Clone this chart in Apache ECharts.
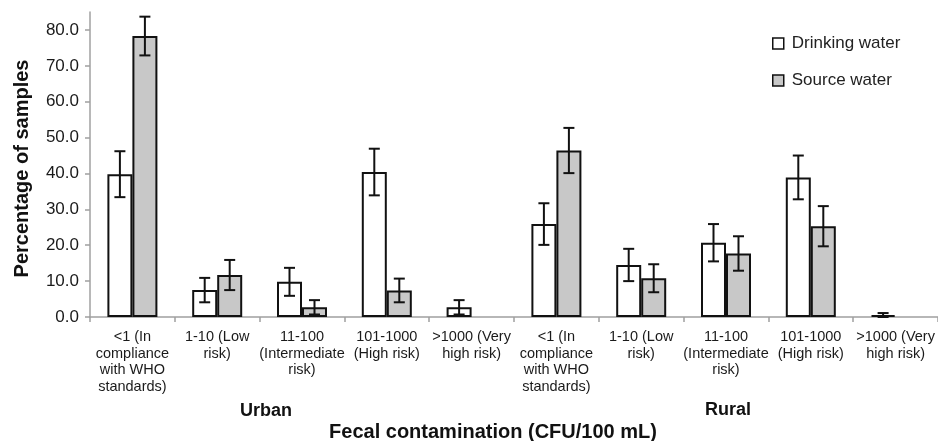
<!DOCTYPE html>
<html>
<head>
<meta charset="utf-8">
<script src="https://cdn.jsdelivr.net/npm/echarts@6/dist/echarts.min.js"></script>
<style>
html,body{margin:0;padding:0;background:#fff;}
#chart{width:938px;height:441px;}
</style>
</head>
<body>
<div id="chart"></div>
<script>
var categories = [
  "<1 (In\ncompliance\nwith WHO\nstandards)",
  "1-10 (Low\nrisk)",
  "11-100\n(Intermediate\nrisk)",
  "101-1000\n(High risk)",
  ">1000 (Very\nhigh risk)",
  "<1 (In\ncompliance\nwith WHO\nstandards)",
  "1-10 (Low\nrisk)",
  "11-100\n(Intermediate\nrisk)",
  "101-1000\n(High risk)",
  ">1000 (Very\nhigh risk)"
];
var groupLabels = ["Urban", "Rural"];
var drinking    = [39.8, 7.5, 9.8, 40.4, 2.7, 25.9, 14.5, 20.7, 38.9, 0.5];
var drinkingErr = [6.4, 3.4, 3.9, 6.5, 2.0, 5.8, 4.5, 5.2, 6.1, 0.6];
var source      = [78.3, 11.7, 2.7, 7.4, null, 46.4, 10.8, 17.7, 25.3, null];
var sourceErr   = [5.4, 4.2, 2.0, 3.3, null, 6.3, 3.9, 4.8, 5.6, null];
var yTicks = [0, 10, 20, 30, 40, 50, 60, 70, 80];

var FONT = "Liberation Sans, Arial, sans-serif";
var BAR_W = 25;

function errData(vals, errs) {
  var out = [];
  for (var i = 0; i < vals.length; i++) {
    if (vals[i] != null && errs[i] != null) out.push([i, vals[i], errs[i]]);
  }
  return out;
}

function errRenderer(offset) {
  return function (params, api) {
    var i = api.value(0), v = api.value(1), e = api.value(2);
    var hi = api.coord([i, v + e]);
    var lo = api.coord([i, Math.max(0, v - e)]);
    var x = hi[0] + offset;
    var cap = 5.5;
    var st = { stroke: '#111', lineWidth: 2 };
    return {
      type: 'group',
      children: [
        { type: 'line', shape: { x1: x, y1: hi[1], x2: x, y2: lo[1] }, style: st },
        { type: 'line', shape: { x1: x - cap, y1: hi[1], x2: x + cap, y2: hi[1] }, style: st },
        { type: 'line', shape: { x1: x - cap, y1: lo[1], x2: x + cap, y2: lo[1] }, style: st }
      ]
    };
  };
}

var chart = echarts.init(document.getElementById('chart'), null, { renderer: 'canvas' });
chart.setOption({
  animation: false,
  backgroundColor: '#fff',
  textStyle: { fontFamily: FONT },
  grid: { left: 90, top: 12, width: 851, height: 305 },
  legend: {
    orient: 'vertical',
    left: 767,
    top: 30,
    itemWidth: 11,
    itemHeight: 11,
    itemGap: 20,
    icon: 'rect',
    textStyle: { fontFamily: FONT, fontSize: 17, color: '#222', padding: [0, 0, 0, 3] },
    itemStyle: { borderWidth: 1.5, borderColor: '#111' },
    data: ['Drinking water', 'Source water']
  },
  xAxis: {
    type: 'category',
    data: categories,
    axisLine: { lineStyle: { color: '#a0a0a0', width: 1.5 } },
    axisTick: { show: true, length: 5, lineStyle: { color: '#a0a0a0', width: 1.5 } },
    axisLabel: {
      interval: 0,
      margin: 12,
      fontFamily: FONT,
      fontSize: 14.5,
      lineHeight: 16.5,
      color: '#1a1a1a',
      align: 'center'
    }
  },
  yAxis: {
    type: 'value',
    min: 0,
    max: 85,
    interval: 10,
    splitLine: { show: false },
    axisLine: { show: true, lineStyle: { color: '#a0a0a0', width: 1.5 } },
    axisTick: { show: true, length: 5, lineStyle: { color: '#a0a0a0', width: 1.5 } },
    axisLabel: {
      showMaxLabel: false,
      margin: 11,
      fontFamily: FONT,
      fontSize: 17,
      color: '#1a1a1a',
      formatter: function (v) { return yTicks.indexOf(v) >= 0 ? v.toFixed(1) : ''; }
    }
  },
  graphic: [
    { type: 'text', x: 22, y: 168.5, rotation: Math.PI / 2,
      style: { text: 'Percentage of samples', font: 'bold 20px ' + FONT, fill: '#111', textAlign: 'center', textVerticalAlign: 'middle' } },
    { type: 'text', x: 266, y: 411.5,
      style: { text: groupLabels[0], font: 'bold 18px ' + FONT, fill: '#111', textAlign: 'center', textVerticalAlign: 'middle' } },
    { type: 'text', x: 728, y: 410,
      style: { text: groupLabels[1], font: 'bold 18px ' + FONT, fill: '#111', textAlign: 'center', textVerticalAlign: 'middle' } },
    { type: 'text', x: 493, y: 432,
      style: { text: 'Fecal contamination (CFU/100 mL)', font: 'bold 20px ' + FONT, fill: '#111', textAlign: 'center', textVerticalAlign: 'middle' } }
  ],
  series: [
    {
      name: 'Drinking water',
      type: 'bar',
      data: drinking,
      barWidth: BAR_W,
      barGap: '0%',
      itemStyle: { color: '#ffffff', borderColor: '#111', borderWidth: 2 }
    },
    {
      name: 'Source water',
      type: 'bar',
      data: source,
      barWidth: BAR_W,
      barGap: '0%',
      itemStyle: { color: '#c8c8c8', borderColor: '#111', borderWidth: 2 }
    },
    {
      type: 'custom',
      data: errData(drinking, drinkingErr),
      encode: { x: 0, y: 1 },
      renderItem: errRenderer(-BAR_W / 2),
      z: 10,
      silent: true
    },
    {
      type: 'custom',
      data: errData(source, sourceErr),
      encode: { x: 0, y: 1 },
      renderItem: errRenderer(BAR_W / 2),
      z: 10,
      silent: true
    }
  ]
});
</script>
</body>
</html>
